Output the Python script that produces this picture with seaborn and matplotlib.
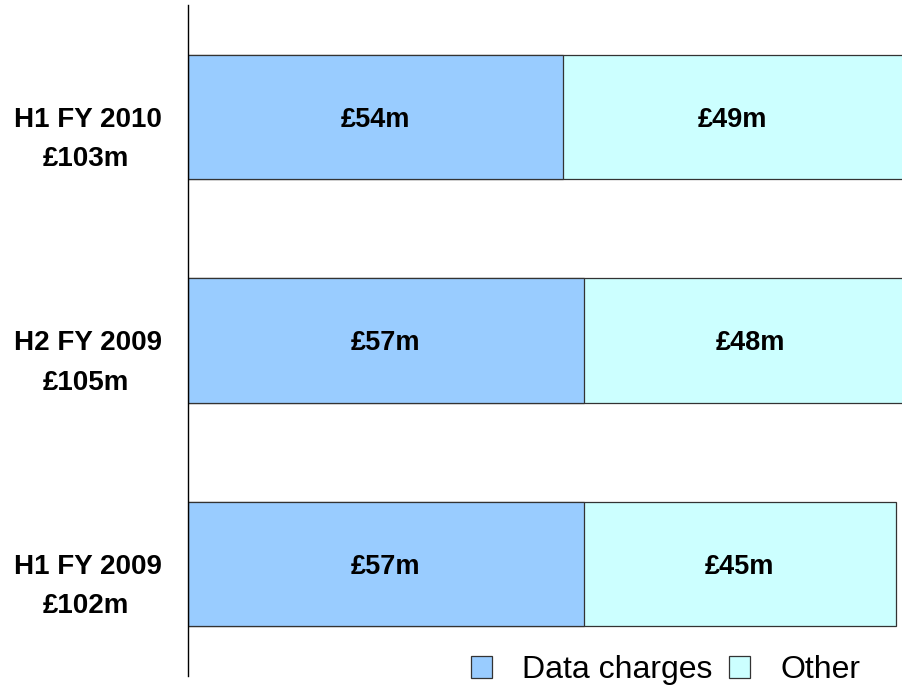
import seaborn as sns
import matplotlib.pyplot as plt
import pandas as pd

periods = ['H1 FY 2010', 'H2 FY 2009', 'H1 FY 2009']
totals = [103, 105, 102]
data_charges = [54, 57, 57]
other = [49, 48, 45]

sns.set_style('white')
plt.rcParams['font.family'] = ['Liberation Sans', 'DejaVu Sans']
plt.rcParams['text.color'] = 'black'

df = pd.DataFrame({'period': periods, 'total': totals,
                   'data': data_charges, 'other': other})

fig = plt.figure(figsize=(9.02, 6.87), dpi=100)
ax = fig.add_axes([188 / 902, 11 / 687, 714 / 902, 671 / 687])

sns.barplot(data=df, y='period', x='total', color='#CCFFFF', saturation=1,
            edgecolor='#333333', linewidth=0.9, width=0.555, label='Other', ax=ax)
sns.barplot(data=df, y='period', x='data', color='#99CCFF', saturation=1,
            edgecolor='#333333', linewidth=0.9, width=0.555, label='Data charges', ax=ax)
if ax.get_legend() is not None:
    ax.get_legend().remove()

for i in range(len(periods)):
    ax.text(data_charges[i] / 2, i, f'£{data_charges[i]}m', ha='center',
            va='center_baseline', fontsize=19.5, fontweight='bold', color='black')
    ax.text(data_charges[i] + other[i] / 2, i, f'£{other[i]}m', ha='center',
            va='center_baseline', fontsize=19.5, fontweight='bold', color='black')

# two-line category labels on the left
ytr = ax.get_yaxis_transform()
for i, (p, t) in enumerate(zip(periods, totals)):
    ax.text(-0.140, i, p, transform=ytr, ha='center', va='center_baseline',
            fontsize=20, fontweight='bold', color='black')
    ax.text(-0.143, i + 0.175, f'£{t}m', transform=ytr, ha='center',
            va='center_baseline', fontsize=20, fontweight='bold', color='black')

ax.set_xlim(0, 102.9)
ax.set_ylim(2.5, -0.5)
ax.set_xlabel('')
ax.set_ylabel('')
ax.set_xticks([])
ax.set_yticks([])
for s in ['top', 'right', 'bottom']:
    ax.spines[s].set_visible(False)
ax.spines['left'].set_color('black')
ax.spines['left'].set_linewidth(1)

handles = [ax.containers[1].patches[0], ax.containers[0].patches[0]]
fig.legend(handles, ['Data charges', 'Other'], loc='center left',
           bbox_to_anchor=(471 / 902, 1 - 670 / 687), ncol=2, frameon=False,
           fontsize=23, handlelength=0.66, handleheight=0.66, handletextpad=0.95,
           columnspacing=0.5, borderpad=0, borderaxespad=0, labelcolor='black')

fig.savefig('out.png', dpi=100)
